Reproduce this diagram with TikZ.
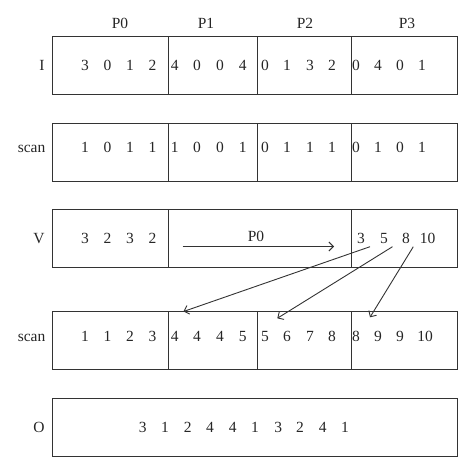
\documentclass[tikz,border=0pt]{standalone}
\usepackage{fontspec}
\setmainfont{Liberation Serif}
\usetikzlibrary{arrows.meta}
\definecolor{ln}{HTML}{333333}
\begin{document}
\begin{tikzpicture}[x=1pt,y=-1pt,
  cell/.style={draw=ln,line width=1pt,anchor=north west,inner sep=0pt,outer sep=0pt},
  txt/.style={anchor=base,inner sep=0pt,font=\fontsize{15.5}{18}\selectfont,text=black!85},
  lbl/.style={txt},
  arr/.style={draw=ln,line width=0.9pt,-{Straight Barb[length=4.5pt,width=9pt,line width=0.9pt]}}]
\useasboundingbox (0,0) rectangle (474,473);
% column headers
\node[txt] (h0) at (120,28.5) {P0};
\node[txt] (h1) at (206,28.5) {P1};
\node[txt] (h2) at (305,28.5) {P2};
\node[txt] (h3) at (407,28.5) {P3};
% row I
\node[cell,minimum width=115.5pt,minimum height=58pt] (i0) at (52.5,37) {};
\node[cell,minimum width=89.5pt,minimum height=58pt] (i1) at (168,37) {};
\node[cell,minimum width=93.5pt,minimum height=58pt] (i2) at (257.5,37) {};
\node[cell,minimum width=106pt,minimum height=58pt] (i3) at (351,37) {};
\node[lbl] (lI) at (42,70.5) {I};
% row scan
\node[cell,minimum width=115.5pt,minimum height=57.5pt] (s0) at (52.5,124) {};
\node[cell,minimum width=89.5pt,minimum height=57.5pt] (s1) at (168,124) {};
\node[cell,minimum width=93.5pt,minimum height=57.5pt] (s2) at (257.5,124) {};
\node[cell,minimum width=106pt,minimum height=57.5pt] (s3) at (351,124) {};
\node[lbl,anchor=base east] (lS) at (45.5,152.5) {scan};
% row V
\node[cell,minimum width=115.5pt,minimum height=58pt] (v0) at (52.5,210) {};
\node[cell,minimum width=183pt,minimum height=58pt] (v1) at (168,210) {};
\node[cell,minimum width=106pt,minimum height=58pt] (v3) at (351,210) {};
\node[lbl] (lV) at (39,243.5) {V};
% row scan 2
\node[cell,minimum width=115.5pt,minimum height=58pt] (t0) at (52.5,311) {};
\node[cell,minimum width=89.5pt,minimum height=58pt] (t1) at (168,311) {};
\node[cell,minimum width=93.5pt,minimum height=58pt] (t2) at (257.5,311) {};
\node[cell,minimum width=106pt,minimum height=58pt] (t3) at (351,311) {};
\node[lbl,anchor=base east] (lT) at (45.5,341.5) {scan};
% row O
\node[cell,minimum width=404.5pt,minimum height=58pt] (o0) at (52.5,398) {};
\node[lbl] (lO) at (39,432.5) {O};
% numbers
\foreach \x/\t [count=\k] in {85/3,107.5/0,130/1,152.5/2,174.7/4,197/0,220/0,242.7/4,265/0,287/1,310/3,332/2,356/0,378/4,400/0,422/1}
  \node[txt] (ni\k) at (\x,70.5) {\t};
\foreach \x/\t [count=\k] in {85/1,107.5/0,130/1,152.5/1,174.7/1,197/0,220/0,242.7/1,265/0,287/1,310/1,332/1,356/0,378/1,400/0,422/1}
  \node[txt] (ns\k) at (\x,152.5) {\t};
\foreach \x/\t [count=\k] in {85/3,107.5/2,130/3,152.5/2,361/3,384/5,406/8,427.7/10}
  \node[txt] (nv\k) at (\x,243.5) {\t};
\node[txt] (pv) at (256,242) {P0};
\foreach \x/\t [count=\k] in {85/1,107.5/1,130/2,152.5/3,174.7/4,197/4,220/4,242.7/5,265/5,287/6,310/7,332/8,356/8,378/9,400/9,425/10}
  \node[txt] (nt\k) at (\x,341.5) {\t};
\foreach \x/\t [count=\k] in {142.7/3,165/1,187.7/2,210/4,232.7/4,255/1,278.3/3,300/2,322.7/4,345/1}
  \node[txt] (no\k) at (\x,432.5) {\t};
% arrows
\coordinate (pa) at (182.7,246.5);
\coordinate (pb) at (334,246.5);
\draw[arr] (pa) -- (pb);
\coordinate (a1) at (370,246.7);
\coordinate (b1) at (183.5,311.5);
\coordinate (a2) at (392.5,246.7);
\coordinate (b2) at (277.3,318.3);
\coordinate (a3) at (413.3,246.7);
\coordinate (b3) at (370,317.3);
\draw[arr] (a1) -- (b1);
\draw[arr] (a2) -- (b2);
\draw[arr] (a3) -- (b3);
\end{tikzpicture}
\end{document}
